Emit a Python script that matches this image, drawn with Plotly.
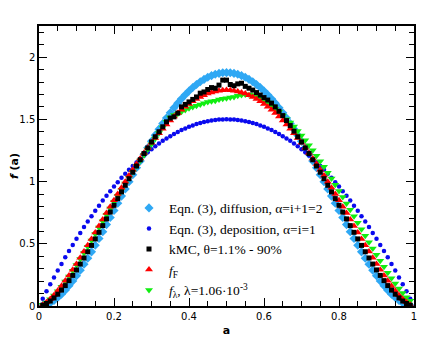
import plotly.graph_objects as go

# a grid shared by all series
a_grid = [0.01, 0.02, 0.03, 0.04, 0.05, 0.06, 0.07, 0.08, 0.09, 0.10,
          0.11, 0.12, 0.13, 0.14, 0.15, 0.16, 0.17, 0.18, 0.19, 0.20,
          0.21, 0.22, 0.23, 0.24, 0.25, 0.26, 0.27, 0.28, 0.29, 0.30,
          0.31, 0.32, 0.33, 0.34, 0.35, 0.36, 0.37, 0.38, 0.39, 0.40,
          0.41, 0.42, 0.43, 0.44, 0.45, 0.46, 0.47, 0.48, 0.49, 0.50,
          0.51, 0.52, 0.53, 0.54, 0.55, 0.56, 0.57, 0.58, 0.59, 0.60,
          0.61, 0.62, 0.63, 0.64, 0.65, 0.66, 0.67, 0.68, 0.69, 0.70,
          0.71, 0.72, 0.73, 0.74, 0.75, 0.76, 0.77, 0.78, 0.79, 0.80,
          0.81, 0.82, 0.83, 0.84, 0.85, 0.86, 0.87, 0.88, 0.89, 0.90,
          0.91, 0.92, 0.93, 0.94, 0.95, 0.96, 0.97, 0.98, 0.99]

f_diffusion = [0.003, 0.012, 0.025, 0.044, 0.068, 0.095, 0.127, 0.163, 0.201, 0.243,
               0.288, 0.335, 0.384, 0.435, 0.488, 0.542, 0.597, 0.654, 0.711, 0.768,
               0.826, 0.883, 0.941, 0.998, 1.055, 1.111, 1.165, 1.219, 1.272, 1.323,
               1.373, 1.421, 1.467, 1.511, 1.553, 1.593, 1.630, 1.665, 1.698, 1.728,
               1.756, 1.780, 1.802, 1.821, 1.838, 1.851, 1.862, 1.869, 1.874, 1.875,
               1.874, 1.869, 1.862, 1.851, 1.838, 1.821, 1.802, 1.780, 1.756, 1.728,
               1.698, 1.665, 1.630, 1.593, 1.553, 1.511, 1.467, 1.421, 1.373, 1.323,
               1.272, 1.219, 1.165, 1.111, 1.055, 0.998, 0.941, 0.883, 0.826, 0.768,
               0.711, 0.654, 0.597, 0.542, 0.488, 0.435, 0.384, 0.335, 0.288, 0.243,
               0.201, 0.163, 0.127, 0.095, 0.068, 0.044, 0.025, 0.012, 0.003]

f_deposition = [0.059, 0.118, 0.175, 0.230, 0.285, 0.338, 0.391, 0.442, 0.491, 0.540,
                0.587, 0.634, 0.679, 0.722, 0.765, 0.806, 0.847, 0.886, 0.923, 0.960,
                0.995, 1.030, 1.063, 1.094, 1.125, 1.154, 1.183, 1.210, 1.235, 1.260,
                1.283, 1.306, 1.327, 1.346, 1.365, 1.382, 1.399, 1.414, 1.427, 1.440,
                1.451, 1.462, 1.471, 1.478, 1.485, 1.490, 1.495, 1.498, 1.499, 1.500,
                1.499, 1.498, 1.495, 1.490, 1.485, 1.478, 1.471, 1.462, 1.451, 1.440,
                1.427, 1.414, 1.399, 1.382, 1.365, 1.346, 1.327, 1.306, 1.283, 1.260,
                1.235, 1.210, 1.183, 1.154, 1.125, 1.094, 1.063, 1.030, 0.995, 0.960,
                0.923, 0.886, 0.847, 0.806, 0.765, 0.722, 0.679, 0.634, 0.587, 0.540,
                0.491, 0.442, 0.391, 0.338, 0.285, 0.230, 0.175, 0.118, 0.059]

f_kmc = [0.006, 0.020, 0.040, 0.065, 0.095, 0.128, 0.164, 0.204, 0.246, 0.290,
         0.337, 0.386, 0.436, 0.487, 0.539, 0.592, 0.646, 0.700, 0.755, 0.809,
         0.863, 0.917, 0.970, 1.023, 1.075, 1.125, 1.175, 1.225, 1.270, 1.318,
         1.360, 1.400, 1.440, 1.480, 1.510, 1.520, 1.550, 1.600, 1.620, 1.640,
         1.660, 1.680, 1.710, 1.720, 1.740, 1.755, 1.750, 1.775, 1.815, 1.815,
         1.780, 1.770, 1.785, 1.790, 1.765, 1.750, 1.735, 1.715, 1.695, 1.675,
         1.655, 1.630, 1.600, 1.565, 1.530, 1.490, 1.450, 1.405, 1.360,
         1.318, 1.270, 1.225, 1.175, 1.125, 1.075, 1.023, 0.970, 0.917, 0.863,
         0.809, 0.755, 0.700, 0.646, 0.592, 0.539, 0.487, 0.436, 0.386, 0.337,
         0.290, 0.246, 0.204, 0.164, 0.128, 0.095, 0.065, 0.040, 0.020, 0.006]

f_F = [0.010, 0.030, 0.056, 0.087, 0.122, 0.160, 0.202, 0.245, 0.291, 0.338,
       0.387, 0.437, 0.488, 0.539, 0.591, 0.643, 0.695, 0.747, 0.798, 0.850,
       0.900, 0.950, 0.999, 1.048, 1.095, 1.141, 1.186, 1.230, 1.272, 1.312,
       1.351, 1.389, 1.425, 1.459, 1.491, 1.522, 1.550, 1.577, 1.602, 1.624,
       1.645, 1.664, 1.680, 1.694, 1.707, 1.716, 1.724, 1.730, 1.733, 1.735,
       1.733, 1.730, 1.724, 1.716, 1.707, 1.694, 1.680, 1.664, 1.645, 1.624,
       1.602, 1.577, 1.550, 1.522, 1.491, 1.459, 1.425, 1.389, 1.351, 1.312,
       1.272, 1.230, 1.186, 1.141, 1.095, 1.048, 0.999, 0.950, 0.900, 0.850,
       0.798, 0.747, 0.695, 0.643, 0.591, 0.539, 0.488, 0.437, 0.387, 0.338,
       0.291, 0.245, 0.202, 0.160, 0.122, 0.087, 0.056, 0.030, 0.010]

f_lambda = [0.010, 0.029, 0.054, 0.084, 0.118, 0.155, 0.196, 0.238, 0.283, 0.329,
            0.377, 0.426, 0.476, 0.527, 0.578, 0.630, 0.681, 0.733, 0.784, 0.835,
            0.885, 0.935, 0.984, 1.032, 1.079, 1.125, 1.170, 1.214, 1.257, 1.300,
            1.345, 1.390, 1.435, 1.480, 1.515, 1.535, 1.545, 1.560, 1.575, 1.590,
            1.600, 1.610, 1.620, 1.630, 1.640, 1.645, 1.650, 1.660, 1.665, 1.670,
            1.675, 1.680, 1.690, 1.695, 1.700, 1.700, 1.695, 1.685, 1.670, 1.655,
            1.635, 1.610, 1.585, 1.560, 1.530, 1.500, 1.475, 1.442, 1.407, 1.370,
            1.332, 1.292, 1.251, 1.208, 1.164, 1.118, 1.071, 1.024, 0.975, 0.925,
            0.875, 0.824, 0.773, 0.721, 0.669, 0.617, 0.565, 0.513, 0.462, 0.412,
            0.363, 0.315, 0.268, 0.223, 0.181, 0.141, 0.104, 0.071, 0.043]

names = ["Eqn. (3), diffusion, α=i+1=2",
         "Eqn. (3), deposition, α=i=1",
         "kMC, θ=1.1% - 90%",
         "<i>f</i><sub>F</sub>",
         "<i>f</i><sub>λ</sub>, λ=1.06·10<sup>-3</sup>"]

fig = go.Figure()
# draw order: diffusion, deposition, f_lambda, f_F, kMC (legend order kept via legendrank)
fig.add_trace(go.Scatter(x=a_grid, y=f_diffusion, mode="markers", name=names[0], legendrank=1,
                         marker=dict(symbol="diamond", size=7, color="#2fa8f4")))
fig.add_trace(go.Scatter(x=a_grid, y=f_deposition, mode="markers", name=names[1], legendrank=2,
                         marker=dict(symbol="circle", size=4.5, color="#0a0aee")))
fig.add_trace(go.Scatter(x=a_grid, y=f_lambda, mode="markers", name=names[4], legendrank=5,
                         marker=dict(symbol="triangle-down", size=7, color="#11ee11")))
fig.add_trace(go.Scatter(x=a_grid, y=f_F, mode="markers", name=names[3], legendrank=4,
                         marker=dict(symbol="triangle-up", size=7, color="#ff0000")))
fig.add_trace(go.Scatter(x=a_grid, y=f_kmc, mode="markers", name=names[2], legendrank=3,
                         marker=dict(symbol="square", size=5, color="black")))

axis_common = dict(showgrid=False, zeroline=False, showline=True, linecolor="black", linewidth=1.5,
                   mirror="allticks", ticks="inside", ticklen=8, tickwidth=1, tickcolor="black",
                   automargin=False,
                   tickfont=dict(family="DejaVu Sans", size=10, color="black"))

fig.update_xaxes(range=[0, 1], dtick=0.2, tickformat="~g",
                 minor=dict(dtick=0.05, ticks="inside", ticklen=5, tickcolor="black"),
                 title=dict(text="<b>a</b>", font=dict(family="DejaVu Sans", size=11, color="black"),
                            standoff=6),
                 **axis_common)
fig.update_yaxes(range=[0, 2.25], dtick=0.5, tickformat="~g",
                 minor=dict(dtick=0.1, ticks="inside", ticklen=5, tickcolor="black"),
                 title=dict(text="<b><i>f</i> (a)</b>", font=dict(family="DejaVu Sans", size=11, color="black"),
                            standoff=4),
                 **axis_common)

# the page body adds an 8px offset, so the figure is a bit smaller than the window
fig.update_layout(
    width=428, height=339,
    margin=dict(l=31, r=22, t=18, b=41),
    plot_bgcolor="white", paper_bgcolor="white",
    legend=dict(x=0.24, y=0.405, xanchor="left", yanchor="top",
                bgcolor="rgba(0,0,0,0)", itemwidth=30, tracegroupgap=0,
                font=dict(family="Liberation Serif", size=13.5, color="black")),
)

fig.write_html("out.html")
